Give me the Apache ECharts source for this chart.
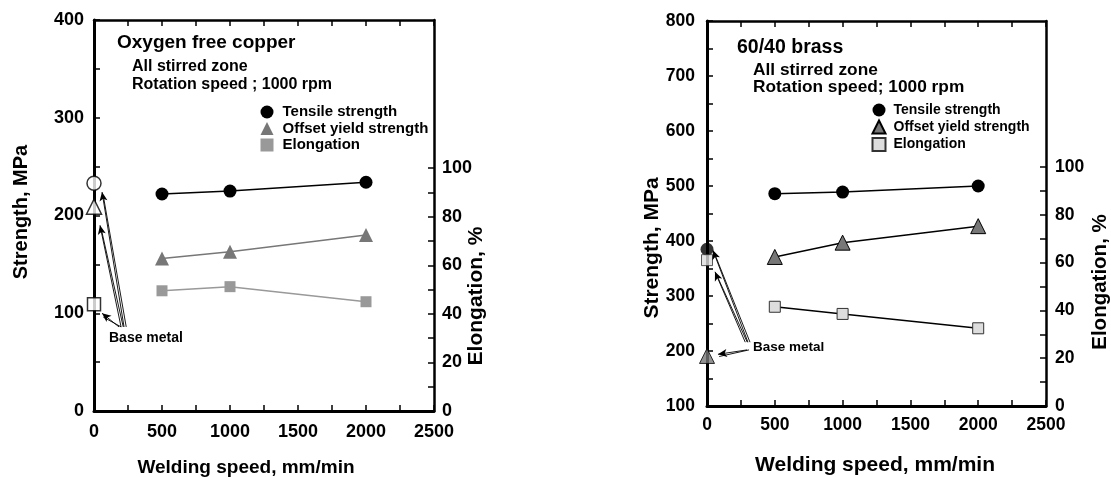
<!DOCTYPE html>
<html>
<head>
<meta charset="utf-8">
<script src="https://cdn.jsdelivr.net/npm/echarts@6/dist/echarts.min.js"></script>
<style>
html,body{margin:0;padding:0;background:#fff;}
#cu{position:absolute;left:0;top:0;width:555px;height:477px;}
#brass{position:absolute;left:555px;top:0;width:556px;height:477px;}
</style>
</head>
<body>
<div id="cu"></div>
<div id="brass"></div>
<script>
var FONT = '"Liberation Sans", Arial, sans-serif';

// shared axes
var speedTicks = [0, 250, 500, 750, 1000, 1250, 1500, 1750, 2000, 2250, 2500];
var speedLabels = [0, 500, 1000, 1500, 2000, 2500];
var elongTicks = [0, 10, 20, 30, 40, 50, 60, 70, 80, 90, 100];
var elongLabels = [0, 20, 40, 60, 80, 100];
var legendNames = ['Tensile strength', 'Offset yield strength', 'Elongation'];

// oxygen free copper
var cuStrTicks = [0, 50, 100, 150, 200, 250, 300, 350, 400];
var cuStrLabels = [0, 100, 200, 300, 400];
var cuTensile = [[500, 222], [1000, 225], [2000, 234]];
var cuYield = [[500, 156], [1000, 163], [2000, 180]];
var cuElong = [[500, 49.5], [1000, 51.2], [2000, 45]];
var cuBaseTensile = [[0, 233]];
var cuBaseYield = [[0, 209]];
var cuBaseElong = [[0, 44]];
// arrows from the "Base metal" note (strength axis)
var cuArrows = [[[221, 86], [59, 224]], [[199, 86], [44, 190]], [[184, 86], [59, 100]]];

// 60/40 brass
var brStrTicks = [100, 150, 200, 250, 300, 350, 400, 450, 500, 550, 600, 650, 700, 750, 800];
var brStrLabels = [100, 200, 300, 400, 500, 600, 700, 800];
var brTensile = [[500, 486], [1000, 489], [2000, 500]];
var brYield = [[500, 371], [1000, 397], [2000, 427]];
var brElong = [[500, 41.5], [1000, 38.5], [2000, 32.5]];
var brBaseTensile = [[0, 385]];
var brBaseYield = [[0, 191]];
var brBaseElong = [[0, 61]];
var brArrows = [[[302, 216], [44, 383]], [[282, 216], [59, 344]], [[295, 202], [81, 194]]];

function txt(x, y, s, size, rot, align) {
	return {
		type: 'text', x: x, y: y, rotation: rot || 0, silent: true,
		style: {
			text: s, fill: '#000', align: align || 'left', verticalAlign: 'middle',
			font: 'bold ' + size + 'px ' + FONT
		}
	};
}

// each arrow: shaft drawn twice side by side, head on the first one
function arrowLines(list, dx) {
	var d = [];
	for (var i = 0; i < list.length; i++) {
		var a = list[i][0], b = list[i][1];
		d.push([{coord: a}, {coord: b}]);
		d.push([{coord: [a[0] + dx, a[1]], symbol: 'none'}, {coord: [b[0] + dx * 0.6, b[1] - 4], symbol: 'none'}]);
	}
	return {
		silent: true,
		symbol: ['none', 'arrow'],
		symbolSize: [6, 9],
		label: {show: false},
		lineStyle: {color: '#000', width: 0.9, type: 'solid'},
		emphasis: {disabled: true},
		data: d
	};
}

function plain(v) { return String(v); }

function buildOption(p) {
	var lbl = {color: '#000', fontFamily: FONT, fontWeight: 'bold', fontSize: p.tickFont, formatter: plain};
	var tick = {inside: true, length: 6, lineStyle: {color: '#000', width: 1.5}};
	return {
		animation: false,
		grid: {left: p.grid[0], top: p.grid[1], width: p.grid[2], height: p.grid[3]},
		legend: {
			orient: 'vertical', left: p.legend[0], top: p.legend[1], padding: 0,
			itemWidth: 13, itemHeight: 13, itemGap: p.legend[2], selectedMode: false,
			textStyle: {color: '#000', fontFamily: FONT, fontWeight: 'bold', fontSize: p.legendFont,
				padding: [0, 0, 0, p.legend[3]]},
			data: [
				{name: legendNames[0], icon: 'circle'},
				{name: legendNames[1], icon: 'triangle'},
				{name: legendNames[2], icon: 'rect'}
			]
		},
		xAxis: [
			{
				type: 'value', min: 0, max: 2500, position: 'bottom',
				axisLine: {onZero: false, lineStyle: {color: '#000', width: 3}},
				axisTick: Object.assign({customValues: speedTicks}, tick),
				axisLabel: Object.assign({margin: p.xMargin, customValues: speedLabels}, lbl),
				splitLine: {show: false}
			},
			{
				type: 'value', min: 0, max: 2500, position: 'top',
				axisLine: {onZero: false, lineStyle: {color: '#000', width: 2.5}},
				axisTick: Object.assign({customValues: speedTicks}, tick),
				axisLabel: {show: false},
				splitLine: {show: false}
			}
		],
		yAxis: [
			{
				type: 'value', min: p.strTicks[0], max: p.strTicks[p.strTicks.length - 1], position: 'left',
				axisLine: {onZero: false, lineStyle: {color: '#000', width: 3}},
				axisTick: Object.assign({customValues: p.strTicks}, tick),
				axisLabel: Object.assign({margin: p.yMargin, customValues: p.strLabels}, lbl),
				splitLine: {show: false}
			},
			{
				type: 'value', min: 0, max: 161, position: 'right',
				axisLine: {onZero: false, lineStyle: {color: '#000', width: 2.5}},
				axisTick: Object.assign({customValues: elongTicks}, tick),
				axisLabel: Object.assign({margin: p.rMargin, customValues: elongLabels}, lbl),
				splitLine: {show: false}
			}
		],
		graphic: p.texts,
		series: p.series
	};
}

function lineSeries(name, data, yIdx, symbol, size, item, lineColor) {
	return {
		type: 'line', name: name, data: data, yAxisIndex: yIdx,
		symbol: symbol, symbolSize: size, itemStyle: item,
		lineStyle: {color: lineColor, width: 1.5}, z: 3
	};
}

function baseSeries(data, yIdx, symbol, size, item, marks) {
	var s = {
		type: 'scatter', name: 'Base metal', data: data, yAxisIndex: yIdx,
		symbol: symbol, symbolSize: size, itemStyle: item, clip: false, z: 4
	};
	if (marks) s.markLine = marks;
	return s;
}

var cuChart = echarts.init(document.getElementById('cu'));
cuChart.setOption(buildOption({
	grid: [94, 20, 340, 391],
	legend: [260.5, 104.5, 1.5, 4],
	legendFont: 15, tickFont: 18,
	xMargin: 12, yMargin: 10, rMargin: 8,
	strTicks: cuStrTicks, strLabels: cuStrLabels,
	texts: [
		txt(117, 43, 'Oxygen free copper', 19),
		txt(132, 67, 'All stirred zone', 16),
		txt(132, 85, 'Rotation speed ; 1000 rpm', 16),
		txt(109, 338, 'Base metal', 14),
		txt(246, 468, 'Welding speed, mm/min', 19, 0, 'center'),
		txt(21, 212, 'Strength, MPa', 20, Math.PI / 2, 'center'),
		txt(476, 296, 'Elongation, %', 21, Math.PI / 2, 'center')
	],
	series: [
		lineSeries(legendNames[0], cuTensile, 0, 'circle', 13, {color: '#000'}, '#000'),
		lineSeries(legendNames[1], cuYield, 0, 'triangle', 14, {color: '#777'}, '#777'),
		lineSeries(legendNames[2], cuElong, 1, 'rect', 11, {color: '#999'}, '#999'),
		baseSeries(cuBaseTensile, 0, 'circle', 14, {color: '#fff', borderColor: '#000', borderWidth: 1.5}, arrowLines(cuArrows, 16)),
		baseSeries(cuBaseYield, 0, 'triangle', 15, {color: '#fff', borderColor: '#000', borderWidth: 1.5}),
		baseSeries(cuBaseElong, 1, 'rect', 13, {color: '#fff', borderColor: '#000', borderWidth: 1.5})
	]
}));

var brChart = echarts.init(document.getElementById('brass'));
brChart.setOption(buildOption({
	grid: [152, 21, 339, 385],
	legend: [316.5, 103, 2.5, 3],
	legendFont: 14, tickFont: 17.5,
	xMargin: 10, yMargin: 12, rMargin: 9,
	strTicks: brStrTicks, strLabels: brStrLabels,
	texts: [
		txt(182, 48, '60/40 brass', 19.5),
		txt(198, 70, 'All stirred zone', 17.3),
		txt(198, 87, 'Rotation speed; 1000 rpm', 17.3),
		txt(198, 347, 'Base metal', 13.5),
		txt(320, 465, 'Welding speed, mm/min', 21, 0, 'center'),
		txt(97, 248, 'Strength, MPa', 21, Math.PI / 2, 'center'),
		txt(545, 282, 'Elongation, %', 20.5, Math.PI / 2, 'center')
	],
	series: [
		lineSeries(legendNames[0], brTensile, 0, 'circle', 13, {color: '#000'}, '#000'),
		lineSeries(legendNames[1], brYield, 0, 'triangle', 15, {color: '#777', borderColor: '#000', borderWidth: 1}, '#000'),
		lineSeries(legendNames[2], brElong, 1, 'rect', 11, {color: '#ddd', borderColor: '#333', borderWidth: 1}, '#000'),
		baseSeries(brBaseTensile, 0, 'circle', 13, {color: '#000'}, arrowLines(brArrows, 15)),
		baseSeries(brBaseYield, 0, 'triangle', 15, {color: '#777', borderColor: '#000', borderWidth: 1}),
		baseSeries(brBaseElong, 1, 'rect', 11, {color: '#ddd', borderColor: '#333', borderWidth: 1})
	]
}));
</script>
</body>
</html>
